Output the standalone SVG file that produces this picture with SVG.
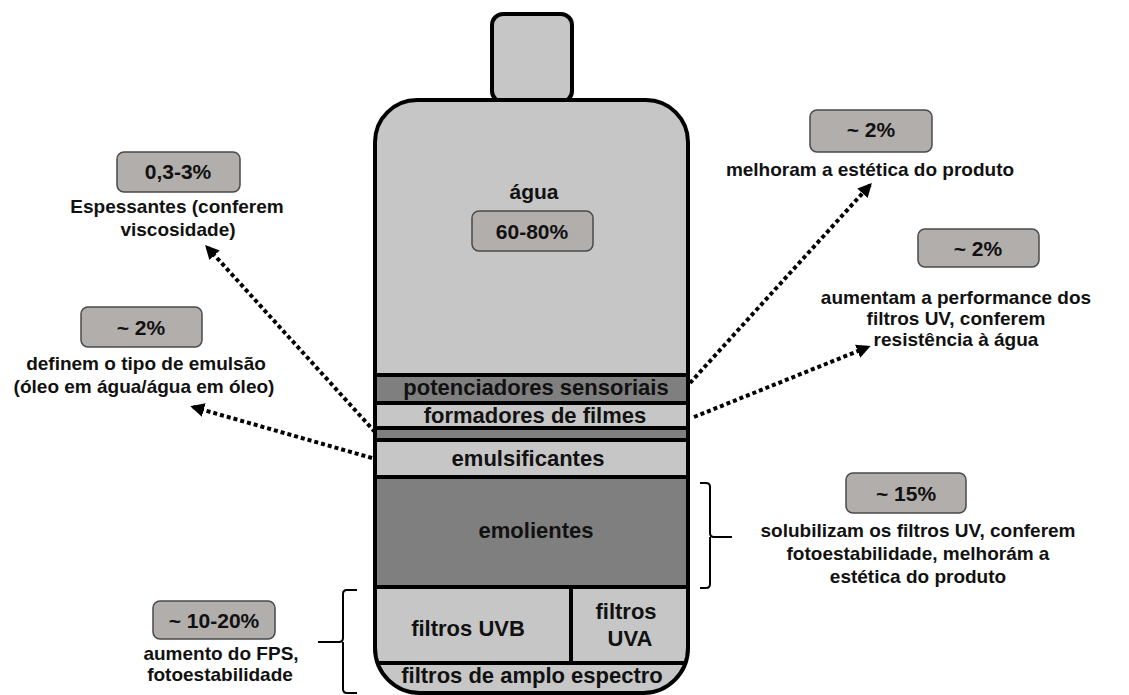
<svg xmlns="http://www.w3.org/2000/svg" width="1129" height="695" viewBox="0 0 1129 695">
<defs>
<style>
.t{font-family:"Liberation Sans",Arial,sans-serif;font-weight:bold;fill:#111;text-anchor:middle}
.lay{font-size:22px}
.pct{font-size:21px}
.lbl{font-size:19px}
.box{fill:#b1aeac;stroke:#4a4a4a;stroke-width:1.5}
.light{fill:#c6c6c6}
.dark{fill:#7f7f7f}
.sep{stroke:#000;stroke-width:4;fill:none}
.dot{stroke:#000;stroke-width:4;stroke-dasharray:4 3;fill:none;marker-end:url(#ah)}
.br{stroke:#000;stroke-width:2;fill:none}
</style>
<marker id="ah" viewBox="0 0 10 10" refX="8" refY="5" markerWidth="14" markerHeight="14" markerUnits="userSpaceOnUse" orient="auto">
<path d="M0,0 L10,5 L0,10 Z" fill="#000"/>
</marker>
<clipPath id="bottle">
<path d="M375,142 A42,42 0 0 1 417,100 H646 A42,42 0 0 1 688,142 V648 A45,45 0 0 1 643,693 H420 A45,45 0 0 1 375,648 Z"/>
</clipPath>
</defs>

<g id="cap">
<rect x="492" y="14" width="80" height="88" rx="11" class="light" stroke="#000" stroke-width="4"/>
</g>

<g id="bottle-body">
<g clip-path="url(#bottle)">
<rect x="370" y="95" width="325" height="280" class="light"/>
<rect x="370" y="375" width="325" height="28" class="dark"/>
<rect x="370" y="403" width="325" height="25" class="light"/>
<rect x="370" y="428" width="325" height="12" class="dark"/>
<rect x="370" y="440" width="325" height="37" class="light"/>
<rect x="370" y="477" width="325" height="110" class="dark"/>
<rect x="370" y="587" width="325" height="110" class="light"/>
<path class="sep" d="M370,375 H695 M370,403 H695 M370,428 H695 M370,440 H695 M370,477 H695 M370,587 H695 M370,663 H695 M571,587 V663"/>
</g>
<path d="M375,142 A42,42 0 0 1 417,100 H646 A42,42 0 0 1 688,142 V648 A45,45 0 0 1 643,693 H420 A45,45 0 0 1 375,648 Z" fill="none" stroke="#000" stroke-width="4"/>
</g>

<g id="agua">
<text class="t pct" x="534" y="199">água</text>
<rect class="box" x="472" y="211" width="121" height="40" rx="7"/>
<text class="t pct" x="532" y="239">60-80%</text>
</g>
<g id="potenciadores"><text class="t lay" x="536" y="395">potenciadores sensoriais</text></g>
<g id="formadores"><text class="t lay" x="535" y="423">formadores de filmes</text></g>
<g id="emulsificantes"><text class="t lay" x="528" y="466">emulsificantes</text></g>
<g id="emolientes"><text class="t lay" x="536" y="538">emolientes</text></g>
<g id="uvb"><text class="t lay" x="468" y="636">filtros UVB</text></g>
<g id="uva"><text class="t lay" x="626" y="619">filtros</text><text class="t lay" x="630" y="646">UVA</text></g>
<g id="amplo"><text class="t lay" x="532" y="683">filtros de amplo espectro</text></g>

<g id="label-espessantes">
<rect class="box" x="117" y="152" width="123" height="40" rx="7"/>
<text class="t pct" x="178" y="179">0,3-3%</text>
<text class="t lbl" x="177" y="213">Espessantes (conferem</text>
<text class="t lbl" x="178" y="236">viscosidade)</text>
</g>
<g id="label-emulsao">
<rect class="box" x="81" y="307" width="121" height="40" rx="7"/>
<text class="t pct" x="141" y="335">~ 2%</text>
<text class="t lbl" x="146" y="370">definem o tipo de emulsão</text>
<text class="t lbl" x="144" y="393">(óleo em água/água em óleo)</text>
</g>
<g id="label-sensoriais">
<rect class="box" x="810" y="110" width="122" height="42" rx="7"/>
<text class="t pct" x="871" y="137">~ 2%</text>
<text class="t lbl" x="870" y="176">melhoram a estética do produto</text>
</g>
<g id="label-filmes">
<rect class="box" x="918" y="229" width="121" height="38" rx="7"/>
<text class="t pct" x="978" y="256">~ 2%</text>
<text class="t lbl" x="956" y="304">aumentam a performance dos</text>
<text class="t lbl" x="956" y="325">filtros UV, conferem</text>
<text class="t lbl" x="956" y="346">resistência à água</text>
</g>
<g id="label-emolientes">
<rect class="box" x="846" y="473" width="120" height="40" rx="7"/>
<text class="t pct" x="906" y="501">~ 15%</text>
<text class="t lbl" x="918" y="537">solubilizam os filtros UV, conferem</text>
<text class="t lbl" x="918" y="560">fotoestabilidade, melhorám a</text>
<text class="t lbl" x="918" y="583">estética do produto</text>
</g>
<g id="label-filtros">
<rect class="box" x="153" y="601" width="122" height="38" rx="7"/>
<text class="t pct" x="214" y="628">~ 10-20%</text>
<text class="t lbl" x="221" y="660">aumento do FPS,</text>
<text class="t lbl" x="220" y="681">fotoestabilidade</text>
</g>

<g id="connectors">
<line class="dot" x1="375" y1="432" x2="207" y2="247"/>
<line class="dot" x1="372" y1="458" x2="193" y2="407"/>
<line class="dot" x1="690" y1="383" x2="870" y2="185"/>
<line class="dot" x1="694" y1="417" x2="868" y2="347"/>
<path class="br" d="M700,483 H706 Q710,483 710,487 V533 Q710,537 714,537 H732 M710,537 V584 Q710,588 706,588 H700"/>
<path class="br" d="M357,590 H347 Q343,590 343,594 V638 Q343,642 339,642 H318 M343,642 V689 Q343,693 347,693 H357"/>
</g>
</svg>
